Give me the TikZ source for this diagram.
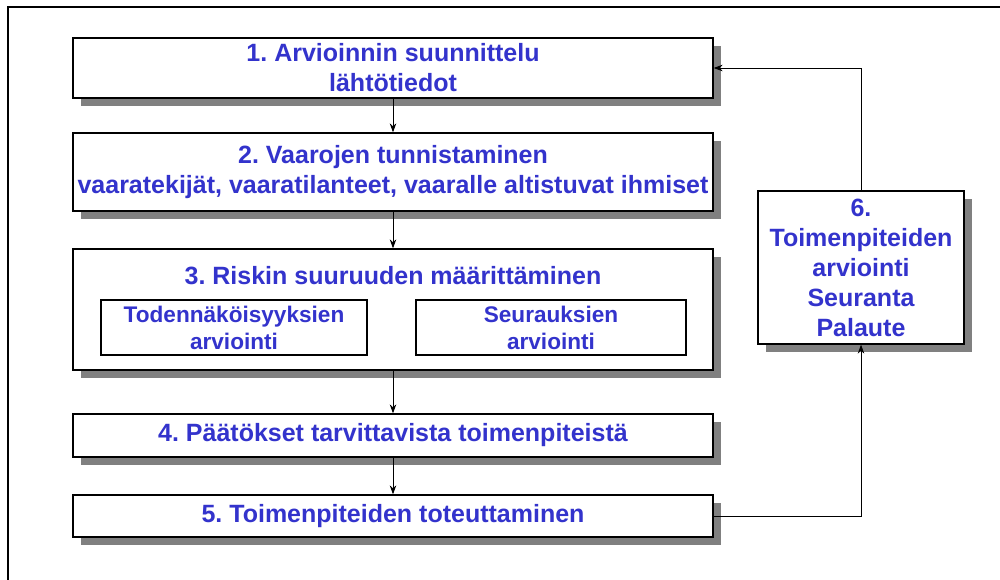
\documentclass[tikz,border=0pt]{standalone}
\usepackage{fontspec}
\setmainfont{Liberation Sans}
\usetikzlibrary{shadows,arrows.meta}
\definecolor{steptext}{RGB}{51,51,204}
\definecolor{shade}{RGB}{128,128,128}
\frenchspacing
\begin{document}
\begin{tikzpicture}[x=1pt,y=-1pt,
  card/.style={draw=black, line width=1.3pt, fill=white, inner sep=0pt,
    text=steptext, align=center, font=\bfseries\fontsize{25}{30}\selectfont,
    drop shadow={shadow xshift=8pt, shadow yshift=-8pt, fill=shade, opacity=1}},
  subcard/.style={draw=black, line width=1.3pt, fill=white, inner sep=0pt,
    text=steptext, align=center, font=\bfseries\fontsize{22.6}{27}\selectfont},
  title/.style={text=steptext, align=center, inner sep=0pt,
    font=\bfseries\fontsize{25}{30}\selectfont},
  flow/.style={draw=black, line width=0.9pt, -{Stealth[length=9pt,width=6.5pt]}}]
\useasboundingbox (0,0) rectangle (1000,580);

% open frame: left and top edges only
\draw[line width=2pt] (7.5,580) -- (7.5,7.5) -- (1000,7.5);

% main chain of steps
\node[card, minimum width=640pt, minimum height=60pt] (s1) at (393,68)
  {1. Arvioinnin suunnittelu\\lähtötiedot};
\node[card, minimum width=640pt, minimum height=78pt] (s2) at (393,172)
  {2. Vaarojen tunnistaminen\\vaaratekijät, vaaratilanteet, vaaralle altistuvat ihmiset};
\node[card, minimum width=640pt, minimum height=121pt] (s3) at (393,309.5) {};
\node[title] (s3t) at (393,276) {3. Riskin suuruuden määrittäminen};
\node[subcard, minimum width=266pt, minimum height=55pt] (s3a) at (234,327.5)
  {Todennäköisyyksien\\arviointi};
\node[subcard, minimum width=270pt, minimum height=55pt] (s3b) at (551,327.5)
  {Seurauksien\\arviointi};
\node[card, minimum width=640pt, minimum height=43pt] (s4) at (393,435.5)
  {4. Päätökset tarvittavista toimenpiteistä};
\node[card, minimum width=640pt, minimum height=42pt] (s5) at (393,516)
  {5. Toimenpiteiden toteuttaminen};

% feedback step
\node[card, minimum width=206pt, minimum height=153pt] (s6) at (861,267.5)
  {6.\\Toimenpiteiden\\arviointi\\Seuranta\\Palaute};

% connectors
\draw[flow] (s1.south) -- (s2.north);
\draw[flow] (s2.south) -- (s3.north);
\draw[flow] (s3.south) -- (s4.north);
\draw[flow] (s4.south) -- (s5.north);
\draw[flow] (s5.east) -| (s6.south);
\draw[flow] (s6.north) |- (s1.east);
\end{tikzpicture}
\end{document}
